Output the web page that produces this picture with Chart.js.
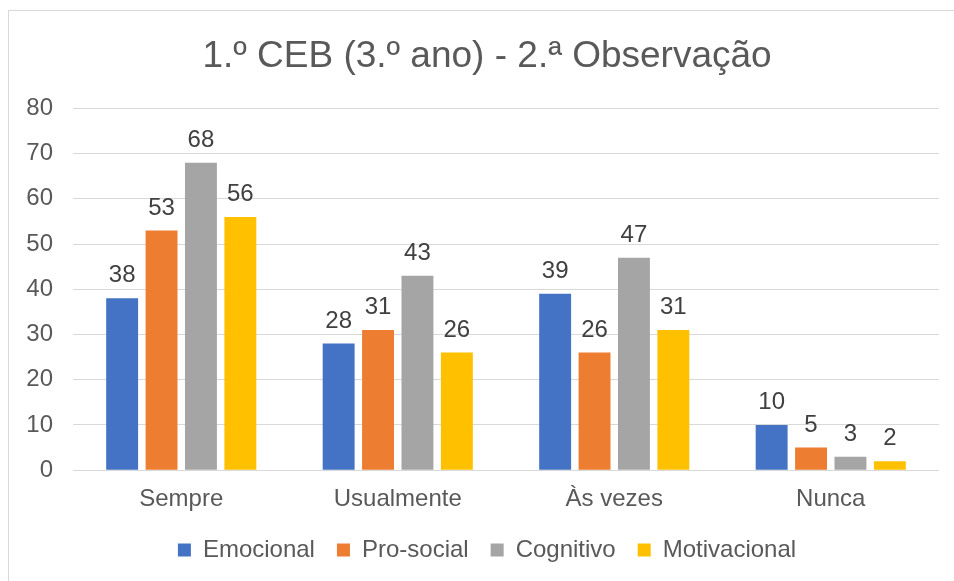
<!DOCTYPE html>
<html>
<head>
<meta charset="utf-8">
<script src="https://cdn.jsdelivr.net/npm/chart.js@4/dist/chart.umd.min.js"></script>
<style>
html,body{margin:0;padding:0;background:#fff;}
#wrap{width:954px;height:581px;position:relative;}
</style>
</head>
<body>
<div id="wrap"><canvas id="c" width="954" height="581"></canvas></div>
<script>
const categories = ["Sempre", "Usualmente", "Às vezes", "Nunca"];
const seriesNames = ["Emocional", "Pro-social", "Cognitivo", "Motivacional"];
const emocional = [38, 28, 39, 10];
const proSocial = [53, 31, 26, 5];
const cognitivo = [68, 43, 47, 3];
const motivacional = [56, 26, 31, 2];
const yTicks = [0, 10, 20, 30, 40, 50, 60, 70, 80];
const colors = ["#4472C4", "#ED7D31", "#A5A5A5", "#FFC000"];
const titleText = "1.º CEB (3.º ano) - 2.ª Observação";

const FONT = "'Liberation Sans', Arial, sans-serif";

const borderPlugin = {
  id: 'borderPlugin',
  beforeDraw(chart) {
    const ctx = chart.ctx;
    ctx.save();
    ctx.fillStyle = '#fff';
    ctx.fillRect(0, 0, chart.width, chart.height);
    ctx.strokeStyle = '#d9d9d9';
    ctx.lineWidth = 1;
    ctx.strokeRect(8.5, 10.5, 1000, 600);
    ctx.restore();
  }
};

const labelPlugin = {
  id: 'labelPlugin',
  afterDatasetsDraw(chart) {
    const ctx = chart.ctx;
    ctx.save();
    ctx.font = "24px " + FONT;
    ctx.fillStyle = '#404040';
    ctx.textAlign = 'center';
    ctx.textBaseline = 'alphabetic';
    chart.data.datasets.forEach((ds, i) => {
      const meta = chart.getDatasetMeta(i);
      meta.data.forEach((bar, j) => {
        ctx.fillText(String(ds.data[j]), bar.x, bar.y - 16);
      });
    });
    ctx.restore();
  }
};

const seriesData = [emocional, proSocial, cognitivo, motivacional];

new Chart(document.getElementById('c'), {
  type: 'bar',
  data: {
    labels: categories,
    datasets: seriesNames.map((n, i) => ({
      label: n,
      data: seriesData[i],
      backgroundColor: colors[i],
      borderWidth: 0,
      categoryPercentage: 0.728,
      barPercentage: 0.81
    }))
  },
  options: {
    responsive: false,
    animation: false,
    devicePixelRatio: 1,
    layout: { padding: { left: 8, right: -12, top: 10, bottom: 9 } },
    plugins: {
      title: {
        display: true,
        text: titleText,
        color: '#595959',
        font: { family: FONT, size: 37, weight: 'normal' },
        padding: { top: 25, bottom: 29 }
      },
      legend: {
        position: 'bottom',
        labels: {
          color: '#595959',
          font: { family: FONT, size: 24 },
          boxWidth: 13,
          boxHeight: 13,
          padding: 22
        }
      },
      tooltip: { enabled: false }
    },
    scales: {
      x: {
        grid: { display: false },
        border: { display: false },
        ticks: { color: '#595959', font: { family: FONT, size: 24 }, padding: 7 },
        afterFit(scale) { scale.height = scale.height - 5; }
      },
      y: {
        min: 0, max: 80,
        afterBuildTicks(scale) { scale.ticks = yTicks.map(v => ({ value: v })); },
        grid: { color: '#d9d9d9', lineWidth: 1, drawTicks: false },
        border: { display: false },
        ticks: { color: '#595959', font: { family: FONT, size: 24 }, padding: 20 },
        afterFit(scale) { scale.width = 65; }
      },
      yRight: {
        position: 'right',
        display: true,
        min: 0, max: 80,
        grid: { display: false, drawTicks: false },
        border: { display: false },
        ticks: { display: false },
        afterFit(scale) { scale.width = 27; }
      }
    }
  },
  plugins: [borderPlugin, labelPlugin]
});
</script>
</body>
</html>
